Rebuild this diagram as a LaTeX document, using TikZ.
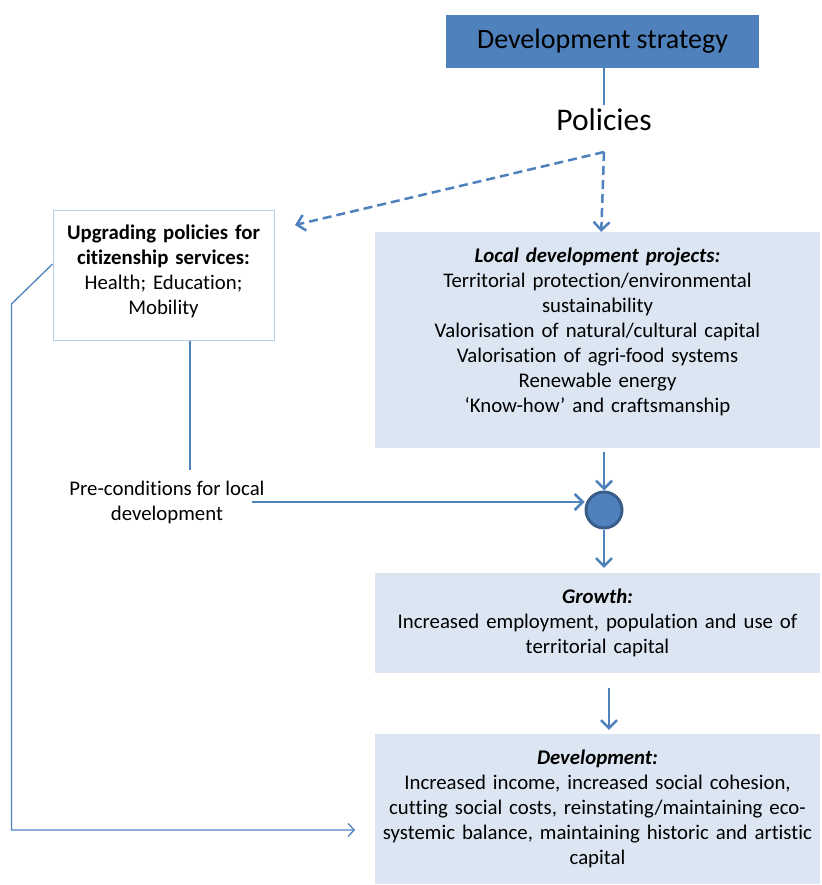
\documentclass[tikz,border=0pt]{standalone}
\usepackage{fontspec}
\setmainfont[Ligatures=NoCommon]{Carlito}
\usetikzlibrary{arrows.meta,positioning}
\definecolor{accent}{HTML}{4F81BD}
\definecolor{accentdark}{HTML}{385D8A}
\definecolor{paleblue}{HTML}{DCE6F2}
\definecolor{edgeblue}{HTML}{B9CDE5}
\newcommand{\bodyfont}{\fontsize{20.8}{25}\selectfont}
\tikzstyle{head} = [
	rectangle,
	fill = accent,
	minimum width = 313pt,
	minimum height = 53pt,
	font = \fontsize{28}{32}\selectfont
	]
\tikzstyle{stage} = [
	rectangle,
	fill = paleblue,
	inner xsep = 0pt,
	text width = 445pt,
	align = center,
	font = \bodyfont
	]
\tikzstyle{service} = [
	rectangle,
	draw = edgeblue,
	line width = 1pt,
	inner xsep = 0pt,
	text width = 221pt,
	minimum height = 129pt,
	align = center,
	font = \bodyfont
	]
\tikzstyle{hub} = [
	circle,
	fill = accent,
	draw = accentdark,
	line width = 3pt,
	minimum size = 36pt,
	inner sep = 0pt
	]
\tikzstyle{flow} = [
	-{Straight Barb[length=8pt,width=16pt]},
	line width = 2.5pt,
	accent,
	draw
	]
\tikzstyle{policy} = [
	flow,
	dash pattern = on 9pt off 5pt
	]
\tikzstyle{feedback} = [
	-{Straight Barb[length=6pt,width=13pt]},
	line width = 1.3pt,
	accent,
	draw
	]

\begin{document}
\begin{tikzpicture}[x=1pt, y=-1pt]
		\useasboundingbox (0,0) rectangle (821,885);
		\node[head] (strat) at (602.5,41.5) {Development strategy};
		\node[font=\fontsize{31.5}{36}\selectfont] (pol) at (604,120) {Policies};
		\coordinate (fork) at (604,152);
		\node[service] (upg) at (163.5,275.5) {\textbf{Upgrading policies for}\\\textbf{citizenship services:}\\Health; Education;\\Mobility\\[-14pt]\mbox{}};
		\coordinate (upgin) at (295,225);
		\node[stage, minimum height=216pt] (local) at (597.5,340) {\textbf{\textit{Local development projects:}}\\Territorial protection/environmental\\sustainability\\Valorisation of natural/cultural capital\\Valorisation of agri-food systems\\Renewable energy\\`Know-how' and craftsmanship\\[-6pt]\mbox{}};
		\node[hub] (hub) at (604,510) {};
		\node[font=\bodyfont, align=center] (pre) at (167,502) {Pre-conditions for local\\development};
		\coordinate (joint) at (190,470);
		\node[stage, minimum height=100pt] (growth) at (597.5,623) {\textbf{\textit{Growth:}}\\Increased employment, population and use of\\territorial capital};
		\node[stage, minimum height=150pt] (dev) at (597.5,809) {\textbf{\textit{Development:}}\\Increased income, increased social cohesion,\\cutting social costs, reinstating/maintaining eco-\\systemic balance, maintaining historic and artistic\\capital};
		\coordinate (devin) at (355,830);
		% strategy and policies
		\draw[flow, -] (strat.south -| pol) -- (pol);
		\draw[policy] (fork) -- (upgin);
		\draw[policy] (fork) -- (local);
		% pre-conditions
		\draw[flow, -] (upg.south -| joint) -- (joint);
		\draw[flow] ([xshift=-16pt]pre.east) -- (pre.east -| hub.west);
		\draw[flow, shorten <=4pt] (local.south -| hub) -- (hub);
		\draw[flow, shorten >=5pt] (hub) -- (growth.north -| hub);
		\draw[flow, shorten <=15pt, shorten >=4pt] ([xshift=11.5pt]growth.south) -- ([xshift=11.5pt]dev.north);
		% citizenship services feed development
		\draw[feedback] ([yshift=11.5pt]upg.west) -- ++(-41,40) |- (devin);
	\end{tikzpicture}
\end{document}
